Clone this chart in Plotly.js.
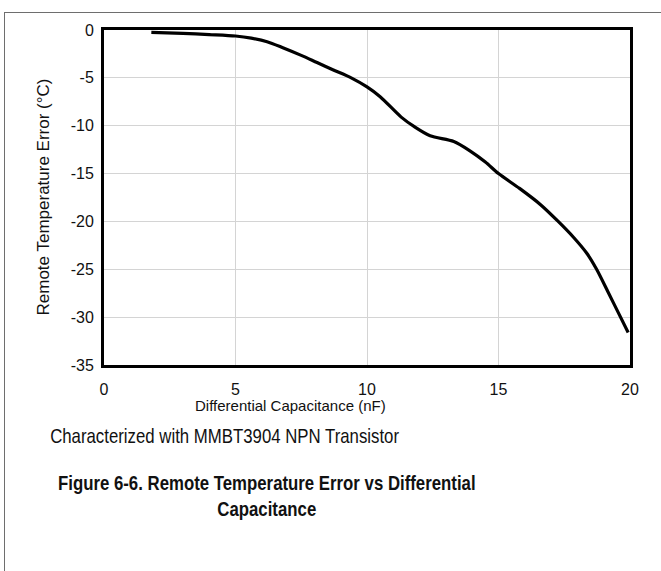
<!DOCTYPE html>
<html>
<head>
<meta charset="utf-8">
<script src="https://cdn.plot.ly/plotly-3.0.1.min.js"></script>
<style>
  html, body { margin: 0; padding: 0; background: #fff; }
  #wrap { position: relative; width: 661px; height: 571px; overflow: hidden; }
  #chart { position: absolute; left: 0; top: 0; width: 661px; height: 571px; }
  .frameTop { position: absolute; left: 4px; top: 12px; width: 657px; height: 1px; background: #6e6e6e; }
  .frameLeft { position: absolute; left: 4px; top: 12px; width: 1px; height: 559px; background: #6e6e6e; }
</style>
</head>
<body>
<div id="wrap">
  <div id="chart"></div>
  <div class="frameTop"></div>
  <div class="frameLeft"></div>
</div>
<script>
// Data
const capacitance = [1.8, 3, 4, 5, 5.6, 6.2, 6.8, 7.5, 8.1, 8.7, 9.4, 10, 10.5, 11.3, 11.8, 12.4, 13.3, 13.9, 14.5, 15, 15.8, 16.6, 17.27, 17.85, 18.35, 18.73, 19.17, 19.55, 19.93];
const tempError   = [-0.24, -0.35, -0.48, -0.63, -0.85, -1.22, -1.85, -2.65, -3.4, -4.15, -5.0, -5.95, -6.97, -9.1, -10.1, -11.05, -11.65, -12.6, -13.8, -15.0, -16.55, -18.25, -20.0, -21.65, -23.3, -25.0, -27.4, -29.5, -31.6];
const xTicks = [0, 5, 10, 15, 20];
const yTicks = [0, -5, -10, -15, -20, -25, -30, -35];
const xTitle = 'Differential Capacitance (nF)';
const yTitle = 'Remote Temperature Error (°C)';
const noteText = 'Characterized with MMBT3904 NPN Transistor';
const figTitleLines = ['Figure 6-6. Remote Temperature Error vs Differential', 'Capacitance'];

const W = 661, H = 571;
const L = 104, R = 630, T = 30, B = 365;
const px = x => (x - L) / (R - L);
const paperY = y => (B - y) / (B - T);

const trace = {
  x: capacitance, y: tempError, mode: 'lines', type: 'scatter',
  line: { color: '#000', width: 3.2, shape: 'spline', smoothing: 0.8 },
  hoverinfo: 'skip'
};

const baseFont = { family: 'Arial, "Liberation Sans", sans-serif', color: '#111' };

const layout = {
  width: W, height: H,
  margin: { l: L, r: W - R, t: T, b: H - B, pad: 0 },
  paper_bgcolor: 'rgba(0,0,0,0)', plot_bgcolor: '#fff',
  showlegend: false,
  font: Object.assign({ size: 16 }, baseFont),
  xaxis: {
    range: [0, 20], tickvals: xTicks, ticktext: xTicks.map(String),
    showgrid: true, gridcolor: '#d4d4d4', gridwidth: 1,
    showline: true, linecolor: '#000', linewidth: 3, mirror: true,
    zeroline: false, ticks: '', ticklabelstandoff: 8,
    tickfont: Object.assign({ size: 16 }, baseFont), fixedrange: true
  },
  yaxis: {
    range: [-35, 0], tickvals: yTicks, ticktext: yTicks.map(String),
    showgrid: true, gridcolor: '#d4d4d4', gridwidth: 1,
    showline: true, linecolor: '#000', linewidth: 3, mirror: true,
    zeroline: false, ticks: '', ticklabelstandoff: 4,
    tickfont: Object.assign({ size: 16 }, baseFont), fixedrange: true
  },
  annotations: [
    { text: xTitle, xref: 'paper', yref: 'paper', x: px(290), y: paperY(416),
      xanchor: 'center', yanchor: 'bottom', showarrow: false,
      font: Object.assign({ size: 15 }, baseFont) },
    { text: yTitle, xref: 'paper', yref: 'paper', x: px(42.5), y: paperY(197),
      xanchor: 'center', yanchor: 'middle', textangle: -90, showarrow: false,
      font: Object.assign({ size: 17 }, baseFont) },
    { text: noteText, xref: 'paper', yref: 'paper', x: px(48), y: paperY(449),
      xanchor: 'left', yanchor: 'bottom', showarrow: false,
      font: Object.assign({ size: 20 }, baseFont) },
    { text: figTitleLines.map(s => '<b>' + s + '</b>').join('<br>'), xref: 'paper', yref: 'paper',
      x: px(266.5), y: paperY(470), xanchor: 'center', yanchor: 'top', showarrow: false,
      align: 'center',
      font: Object.assign({ size: 20 }, baseFont) }
  ]
};

// condense the two narrow-font texts horizontally (reference uses a narrow face)
function condense() {
  const anns = document.querySelectorAll('#chart .annotation');
  [[2, 'left'], [3, 'center']].forEach(([i, mode]) => {
    const g = anns[i];
    if (!g) return;
    const t = g.querySelector('text.annotation-text');
    if (!t) return;
    t.removeAttribute('transform');
    const bb = t.getBBox();
    const cx = mode === 'left' ? bb.x : bb.x + bb.width / 2;
    t.setAttribute('transform', 'translate(' + cx + ',0) scale(0.84,1) translate(' + (-cx) + ',0)');
  });
}

Plotly.newPlot('chart', [trace], layout, { staticPlot: true, displayModeBar: false }).then(condense);
</script>
</body>
</html>
